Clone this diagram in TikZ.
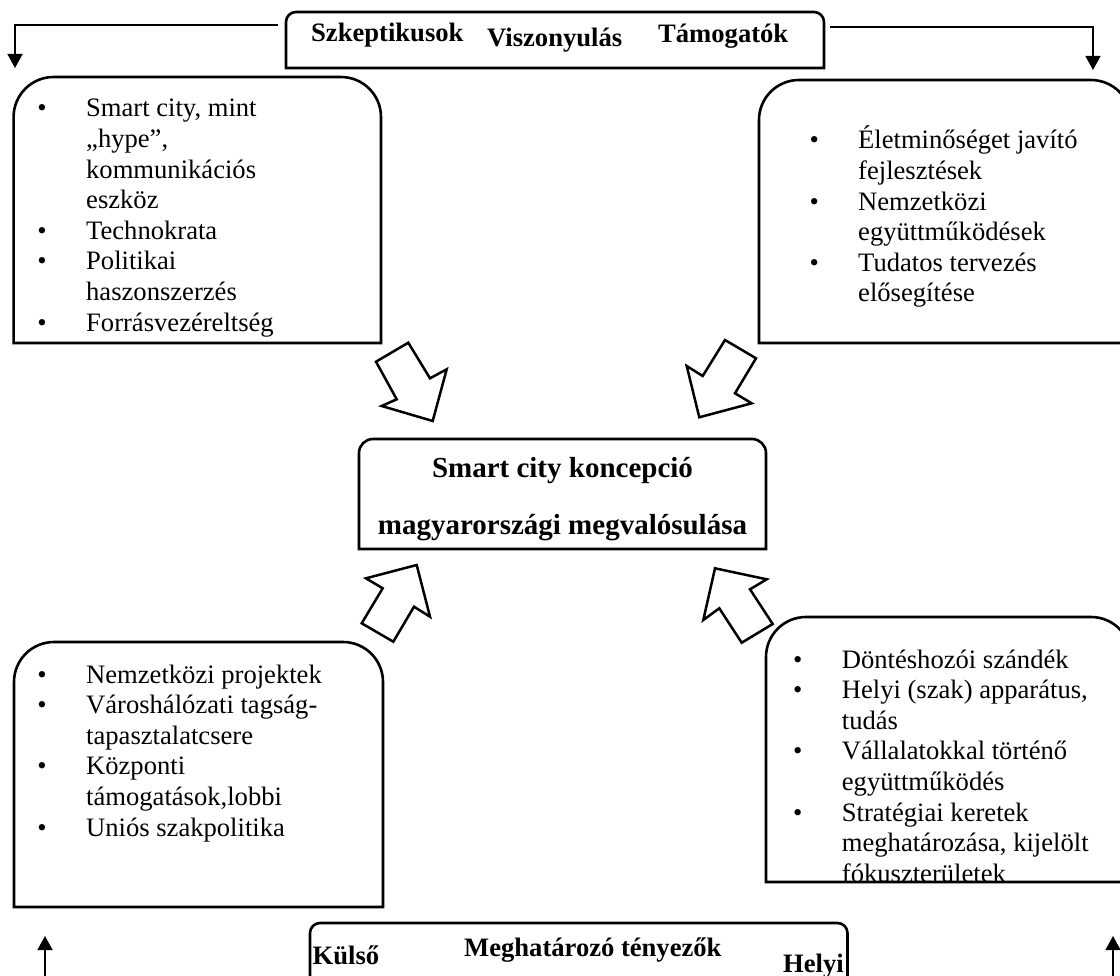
\documentclass[tikz,border=0pt]{standalone}
\usepackage{fontspec}
\setmainfont{Liberation Serif}
\usetikzlibrary{arrows.meta,calc}
\newcommand{\bul}{\makebox[48.7pt][l]{\textbullet}}
\newcommand{\cont}{\hspace*{48.7pt}}
\begin{document}
\begin{tikzpicture}[x=1pt,y=-1pt,
  place/.style={inner sep=0pt, outer sep=0pt, draw=none},
  frame/.style={line width=2.6pt, line join=miter},
  flow/.style={line width=1.3pt, -{Triangle[length=14pt,width=15pt]}},
  blockarrow/.style={line width=2.5pt, line join=miter, fill=white},
  itemtext/.style={inner sep=0pt, anchor=base west, font=\fontsize{26.6}{30.6}\selectfont},
  headtext/.style={inner sep=0pt, anchor=base west, font=\bfseries\fontsize{26.6}{30.6}\selectfont},
  titletext/.style={inner sep=0pt, anchor=base, font=\bfseries\fontsize{29}{58}\selectfont},
]
\useasboundingbox (0,0) rectangle (1120,976);
\fill[white] (0,0) rectangle (1120,976);
\begin{scope}
\clip (0,0) rectangle (1120,976);

% box outlines (top corners rounded only)
\node[place, minimum width=538pt,   minimum height=56pt]  (top)  at (555,40)      {};
\node[place, minimum width=367.4pt, minimum height=266pt] (lt)   at (197.3,210)   {};
\node[place, minimum width=372pt,   minimum height=263pt] (rt)   at (945,211.5)   {};
\node[place, minimum width=369pt,   minimum height=265pt] (lb)   at (198.5,774.5) {};
\node[place, minimum width=365pt,   minimum height=265pt] (rb)   at (948.5,749.5) {};
\node[place, minimum width=407pt,   minimum height=110pt] (mid)  at (562.5,494)   {};
\node[place, minimum width=537.5pt, minimum height=80pt]  (bot)  at (578.75,963)  {};

\foreach \b/\r in {top/10pt, lt/40pt, rt/40pt, lb/40pt, rb/40pt, mid/14pt, bot/10pt}{
  \draw[frame] (\b.south west) -- (\b.west) [rounded corners=\r]
     -- (\b.north west) -- (\b.north east) -- (\b.east) [sharp corners]
     -- (\b.south east) -- cycle;
}

% headings
\node[headtext] (skep) at (311,42) {Szkeptikusok};
\node[headtext] (visz) at (487,47) {Viszonyulás};
\node[headtext] (tamo) at (658,43) {Támogatók};

\node[headtext] (kuls) at (312.5,964) {Külső};
\node[headtext] (megh) at (464,956) {Meghatározó tényezők};
\node[headtext] (hely) at (783,972) {Helyi};

% centre
\node[titletext] (cim) at (562.5,477) {\begin{tabular}[t]{@{}c@{}}Smart city koncepció\\ magyarországi megvalósulása\end{tabular}};

% bullet lists
\node[itemtext] (ltx) at (37.3,117) {\begin{tabular}[t]{@{}l@{}}
\bul Smart city, mint\\
\cont „hype”,\\
\cont kommunikációs\\
\cont eszköz\\
\bul Technokrata\\
\bul Politikai\\
\cont haszonszerzés\\
\bul Forrásvezéreltség
\end{tabular}};

\node[itemtext] (rtx) at (809.3,149) {\begin{tabular}[t]{@{}l@{}}
\bul Életminőséget javító\\
\cont fejlesztések\\
\bul Nemzetközi\\
\cont együttműködések\\
\bul Tudatos tervezés\\
\cont elősegítése
\end{tabular}};

\node[itemtext] (lbx) at (37.3,683) {\begin{tabular}[t]{@{}l@{}}
\bul Nemzetközi projektek\\
\bul Városhálózati tagság-\\
\cont tapasztalatcsere\\
\bul Központi\\
\cont támogatások,lobbi\\
\bul Uniós szakpolitika
\end{tabular}};

\node[itemtext] (rbx) at (793,668) {\begin{tabular}[t]{@{}l@{}}
\bul Döntéshozói szándék\\
\bul Helyi (szak) apparátus,\\
\cont tudás\\
\bul Vállalatokkal történő\\
\cont együttműködés\\
\bul Stratégiai keretek\\
\cont meghatározása, kijelölt\\
\cont fókuszterületek
\end{tabular}};

% connectors from the heading boxes
\coordinate (ltEnd) at (15,68);
\coordinate (rtEnd) at (1093,70);
\draw[flow] ($(top.north west)+(-8,13)$) -| (ltEnd);
\draw[flow] ($(top.north east)+(6,15)$) -| (rtEnd);

\coordinate (lbStart) at (45,980);
\coordinate (lbEnd)   at (45,936);
\coordinate (rbStart) at (1113,980);
\coordinate (rbEnd)   at (1113,936);
\draw[flow] (lbStart) -- (lbEnd);
\draw[flow] (rbStart) -- (rbEnd);

% block arrows towards the centre
\draw[blockarrow] (408.3,342.7) -- (376,361.7) -- (396.7,399.3) -- (381.7,406)
  -- (432.7,421) -- (446.7,369.3) -- (430,378.3) -- cycle;
\draw[blockarrow] (725,340) -- (756,358.3) -- (735,393.3) -- (751.7,403.3)
  -- (699.3,417.3) -- (686.7,366) -- (702.7,376) -- cycle;
\draw[blockarrow] (416.7,565) -- (430,616.7) -- (414,606.7) -- (393.3,641.7)
  -- (361.7,623.3) -- (382.7,588.3) -- (366,578.3) -- cycle;
\draw[blockarrow] (715,568.3) -- (766.7,579.3) -- (750,589.3) -- (772.7,624)
  -- (741.7,642.7) -- (719.3,608.3) -- (703.3,620) -- cycle;
\end{scope}
\end{tikzpicture}
\end{document}
